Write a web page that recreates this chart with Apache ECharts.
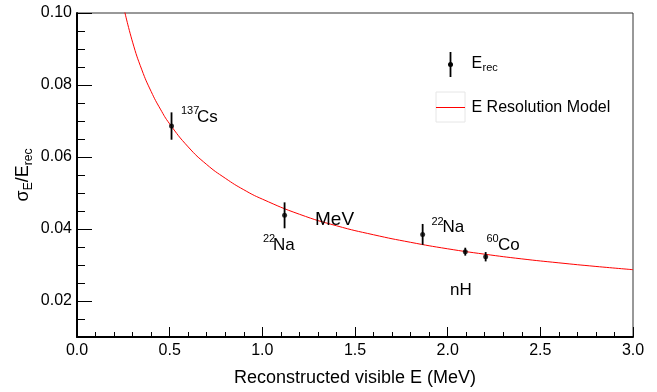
<!DOCTYPE html>
<html>
<head>
<meta charset="utf-8">
<script src="https://cdn.jsdelivr.net/npm/echarts@6/dist/echarts.min.js"></script>
<style>
  html, body { margin: 0; padding: 0; background: #fff; }
  #chart { width: 657px; height: 392px; }
</style>
</head>
<body>
<div id="chart"></div>
<script>
// Calibration sources: visible energy (MeV), relative resolution and its uncertainty
const sourceNames = ['137Cs', '22Na', '22Na', 'nH', '60Co'];
const sourceEnergy = [0.51, 1.12, 1.865, 2.095, 2.205];
const sourceResolution = [0.0686, 0.0438, 0.0385, 0.0337, 0.0323];
const sourceError = [0.0038, 0.0036, 0.0029, 0.0011, 0.0013];

// Resolution model curve, sampled along the energy axis
const modelEnergy = [0.255, 0.3, 0.35, 0.4, 0.45, 0.5, 0.6, 0.7, 0.8, 0.9, 1.0, 1.2, 1.4, 1.6, 1.8, 2.0, 2.2, 2.4, 2.6, 2.8, 3.0];
const modelResolution = [0.1009, 0.0919, 0.0842, 0.0782, 0.0733, 0.0692, 0.0628, 0.0579, 0.0541, 0.0509, 0.0483, 0.0441, 0.0409, 0.0384, 0.0363, 0.0345, 0.0330, 0.0317, 0.0306, 0.0296, 0.0287];

// Axis tick labels
const yTickValues = [0.02, 0.04, 0.06, 0.08, 0.10];

const FONT = '"Liberation Sans", Arial, Helvetica, sans-serif';

const points = sourceEnergy.map((e, i) => [e, sourceResolution[i], sourceError[i]]);
const curve = modelEnergy.map((e, i) => [e, modelResolution[i]]);

const chart = echarts.init(document.getElementById('chart'), null, { renderer: 'canvas' });

function txt(text, x, cy, size) {
  return {
    type: 'text', x: x, y: cy, z: 100,
    style: { text: text, fill: '#000', font: size + 'px ' + FONT, textAlign: 'left', textVerticalAlign: 'middle' }
  };
}

chart.setOption({
  animation: false,
  backgroundColor: '#fff',
  grid: {
    left: 77, right: 24, top: 13, bottom: 50,
    show: true, borderColor: '#333', borderWidth: 1, backgroundColor: 'transparent'
  },
  xAxis: {
    type: 'value', min: 0, max: 3, interval: 0.5,
    name: 'Reconstructed visible E (MeV)',
    nameLocation: 'middle', nameGap: 32,
    nameTextStyle: { fontFamily: FONT, fontSize: 18, color: '#000' },
    axisLine: { show: true, onZero: false, lineStyle: { color: '#000', width: 2 } },
    axisTick: { show: true, inside: true, length: 10, lineStyle: { color: '#000', width: 1 } },
    minorTick: { show: true, splitNumber: 5, length: 5, lineStyle: { color: '#000', width: 1 } },
    axisLabel: { fontFamily: FONT, fontSize: 16, color: '#000', margin: 6, formatter: v => v.toFixed(1) },
    splitLine: { show: false }
  },
  yAxis: [
    {
      type: 'value', min: 0.01, max: 0.10, interval: 0.005,
      axisLine: { show: true, onZero: false, lineStyle: { color: '#000', width: 2 } },
      axisTick: { show: true, inside: true, length: 8, lineStyle: { color: '#000', width: 1 } },
      axisLabel: { show: false },
      splitLine: { show: false },
      name: '{m|σ}{s|E}{m|/E}{s|rec}',
      nameLocation: 'middle', nameRotate: 90, nameGap: 45,
      nameTextStyle: {
        color: '#000',
        rich: {
          m: { fontFamily: FONT, fontSize: 18, color: '#000', lineHeight: 22, verticalAlign: 'bottom' },
          s: { fontFamily: FONT, fontSize: 12, color: '#000', lineHeight: 22, verticalAlign: 'bottom', padding: [0, 0, -3, 0] }
        }
      }
    },
    {
      type: 'value', min: 0.01, max: 0.10, position: 'left',
      axisLine: { show: false },
      axisTick: { show: true, inside: true, length: 15, customValues: yTickValues, lineStyle: { color: '#000', width: 1 } },
      axisLabel: { show: true, customValues: yTickValues, fontFamily: FONT, fontSize: 16, color: '#000', margin: 5, formatter: v => v.toFixed(2) },
      splitLine: { show: false }
    }
  ],
  series: [
    {
      name: 'E Resolution Model', type: 'line', data: curve, smooth: true,
      showSymbol: false, symbol: 'none', clip: true,
      lineStyle: { color: '#ff0000', width: 1 }, z: 2
    },
    {
      name: 'Erec errors', type: 'custom', data: points, z: 3,
      renderItem: function (params, api) {
        const x = api.value(0), y = api.value(1), e = api.value(2);
        const p1 = api.coord([x, y + e]);
        const p2 = api.coord([x, y - e]);
        return {
          type: 'line',
          shape: { x1: p1[0], y1: p1[1], x2: p2[0], y2: p2[1] },
          style: { stroke: '#000', lineWidth: 1.8 }
        };
      },
      encode: { x: 0, y: 1 }
    },
    {
      name: 'Erec', type: 'scatter', data: points.map(p => [p[0], p[1]]),
      symbol: 'circle', symbolSize: 5, itemStyle: { color: '#000' }, z: 4
    }
  ],
  graphic: [
    // source annotations
    txt('137', 181, 111, 11), txt('Cs', 197, 117, 17),
    txt('22', 263, 239, 11), txt('Na', 273, 245.5, 17),
    txt('MeV', 315, 220, 19),
    txt('22', 431.5, 221.5, 11), txt('Na', 442.5, 227.5, 17),
    txt('60', 486.5, 238.5, 11), txt('Co', 498, 245.5, 17),
    txt('nH', 450, 290, 17),
    // legend: data marker
    { type: 'line', z: 100, shape: { x1: 450.5, y1: 52, x2: 450.5, y2: 77 }, style: { stroke: '#000', lineWidth: 1.8 } },
    { type: 'circle', z: 101, shape: { cx: 450.5, cy: 64.5, r: 2.5 }, style: { fill: '#000' } },
    txt('E', 471.5, 63.5, 16), txt('rec', 482.5, 68, 11),
    // legend: model line
    { type: 'rect', z: 100, shape: { x: 436, y: 92, width: 29, height: 30 }, style: { fill: 'none', stroke: '#e6e6e6', lineWidth: 1 } },
    { type: 'line', z: 101, shape: { x1: 436, y1: 107.5, x2: 465, y2: 107.5 }, style: { stroke: '#ff0000', lineWidth: 1 } },
    txt('E Resolution Model', 471.5, 108, 16)
  ]
});
</script>
</body>
</html>
